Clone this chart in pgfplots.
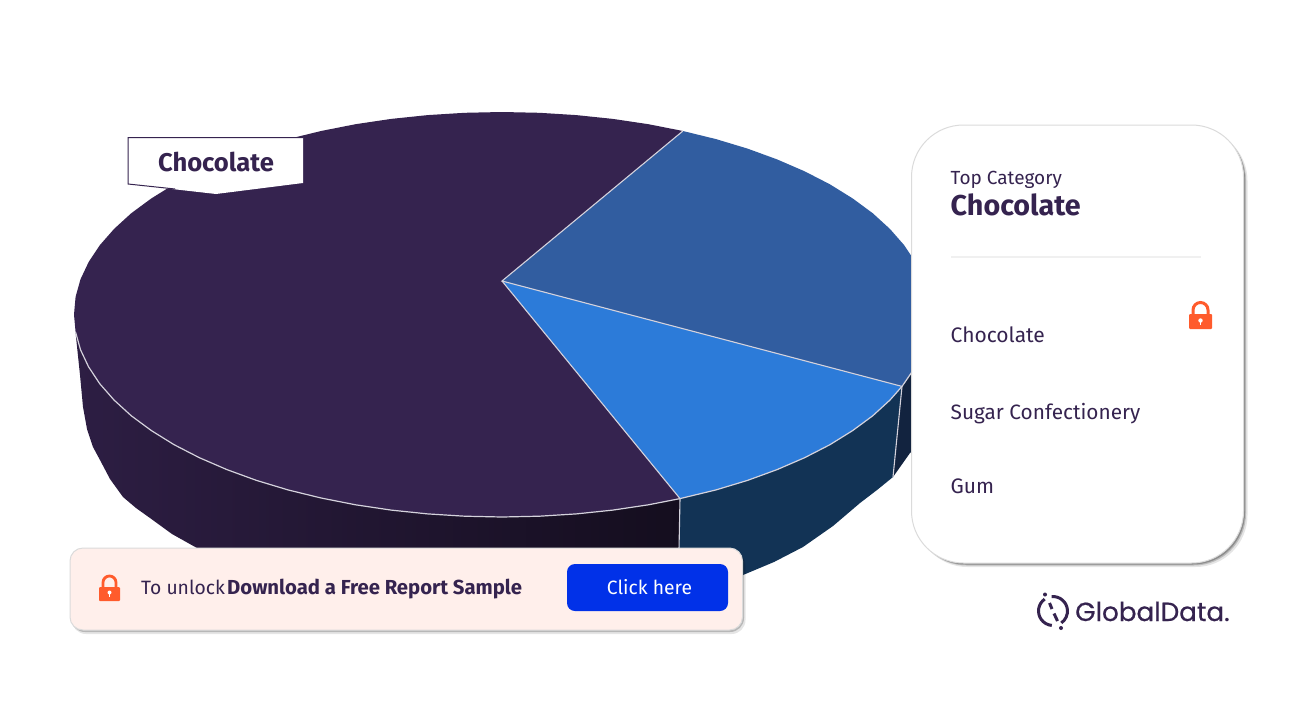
\documentclass[border=0pt]{standalone}
\usepackage{pgfplots}
\pgfplotsset{compat=1.18}
\usepackage{fontspec}
\setmainfont{Fira Sans}
\newfontfamily\logofont{Poppins}
\definecolor{ink}{HTML}{35234F}
\definecolor{pDark}{HTML}{35234F}
\definecolor{pBlue}{HTML}{315DA0}
\definecolor{pLight}{HTML}{2C7BD9}
\definecolor{sNavy}{HTML}{123355}
\definecolor{sDeep}{HTML}{12233F}
\definecolor{rim}{HTML}{D4D2DC}
\definecolor{lockc}{HTML}{FF5B2C}
\definecolor{banner}{HTML}{FFEFEB}
\definecolor{btn}{HTML}{0131E8}
\newcommand{\fs}[1]{\fontsize{#1}{#1}\selectfont}
\begin{document}
\begin{tikzpicture}
\begin{axis}[
  scale only axis, width=1289pt, height=725pt,
  xmin=0, xmax=1289, ymin=0, ymax=725, y dir=reverse,
  hide axis, clip=true,
  every axis plot/.append style={mark=none},
]
\fill[white] (axis cs:0,0) rectangle (axis cs:1289,725);
% side of the large slice
\addplot[draw=none, left color=black!0!pDark!85!black, middle color=pDark!75!black, right color=pDark!38!black, shading=axis] coordinates {
 (680,498.6)(648.4,504.8)(612.8,510.1)(576.3,513.9)(539.3,516.2)(502,517)(464.7,516.2)(427.7,513.9)(391.2,510.1)(355.6,504.8)(321.1,498)(288,489.9)(256.5,480.4)(226.9,469.6)(199.4,457.7)(174.1,444.7)(151.4,430.6)(131.3,415.8)(114.1,400.1)(99.8,383.8)(88.6,366.9)(80.5,349.7)(75.6,332.2)
 (76,337)(80,375)(83,407)(87,429)(93,447)(100,460)(110,479)(123,497)(136,508)(150,518)(172,534)(197,548)(300,590)(500,610)(678,600)} --cycle;
% sides of the blue slices
\addplot[fill=sNavy, draw=none] coordinates {
 (680,498.6)(682.9,498)(716,489.9)(747.5,480.4)(777.1,469.6)(804.6,457.7)(829.9,444.7)(852.6,430.6)(872.7,415.8)(889.9,400.1)(902,386.4)
 (893,477)(877,490)(860,503)(833,526)(803,547)(774,562)(743,575)(678,600)} --cycle;
\addplot[fill=sDeep, draw=none] coordinates {
 (902,386.4)(904.2,383.8)(915.4,366.9)(923.5,349.7)(925,440)(910,453)(893,477)} --cycle;
% top faces
\addplot[fill=pDark, draw=none] coordinates {
 (502,281)(680,498.6)(648.4,504.8)(612.8,510.1)(576.3,513.9)(539.3,516.2)(502,517)(464.7,516.2)(427.7,513.9)(391.2,510.1)(355.6,504.8)(321.1,498)(288,489.9)(256.5,480.4)(226.9,469.6)(199.4,457.7)(174.1,444.7)(151.4,430.6)(131.3,415.8)(114.1,400.1)(99.8,383.8)(88.6,366.9)(80.5,349.7)(75.6,332.2)(74,314.5)(75.6,296.8)(80.5,279.3)(88.6,262.1)(99.8,245.2)(114.1,228.9)(131.3,213.2)(151.4,198.4)(174.1,184.3)(199.4,171.3)(226.9,159.4)(256.5,148.6)(288,139.1)(321.1,131)(355.6,124.2)(391.2,118.9)(427.7,115.1)(464.7,112.8)(502,112)(539.3,112.8)(576.3,115.1)(612.8,118.9)(648.4,124.2)(682.9,131)} --cycle;
\addplot[fill=pBlue, draw=none] coordinates {
 (502,281)(682.9,131)(716,139.1)(747.5,148.6)(777.1,159.4)(804.6,171.3)(829.9,184.3)(852.6,198.4)(872.7,213.2)(889.9,228.9)(904.2,245.2)(915.4,262.1)(923.5,279.3)(928.4,296.8)(930,314.5)(928.4,332.2)(923.5,349.7)(915.4,366.9)(904.2,383.8)(902,386.4)} --cycle;
\addplot[fill=pLight, draw=none] coordinates {
 (502,281)(902,386.4)(889.9,400.1)(872.7,415.8)(852.6,430.6)(829.9,444.7)(804.6,457.7)(777.1,469.6)(747.5,480.4)(716,489.9)(682.9,498)(680,498.6)} --cycle;
% rim and slice edges
\addplot[rim, line width=1.2pt] coordinates {
 (75.6,332.2)(80.5,349.7)(88.6,366.9)(99.8,383.8)(114.1,400.1)(131.3,415.8)(151.4,430.6)(174.1,444.7)(199.4,457.7)(226.9,469.6)(256.5,480.4)(288,489.9)(321.1,498)(355.6,504.8)(391.2,510.1)(427.7,513.9)(464.7,516.2)(502,517)(539.3,516.2)(576.3,513.9)(612.8,510.1)(648.4,504.8)(680,498.6)(716,489.9)(747.5,480.4)(777.1,469.6)(804.6,457.7)(829.9,444.7)(852.6,430.6)(872.7,415.8)(889.9,400.1)(902,386.4)(915.4,366.9)};
\addplot[rim, line width=1.1pt] coordinates {(682.9,131)(502,281)(902,386.4)};
\addplot[rim, line width=1.1pt] coordinates {(502,281)(680,498.6)};
\addplot[rim, line width=1.1pt] coordinates {(902,386.4)(893,477)};
\addplot[rim, line width=1.1pt] coordinates {(680,498.6)(678,600)};
% data label
\fill[white] (axis cs:128,137.5) -- (axis cs:303,137.5) -- (axis cs:303,183) -- (axis cs:216,194) -- (axis cs:128,184) -- cycle;
\draw[ink, line width=1pt] (axis cs:303,137.5) -- (axis cs:128,137.5) -- (axis cs:128,184) -- (axis cs:175,189);
\node[anchor=base, text=ink, inner sep=0pt] at (axis cs:216,171) {\fs{25.6}\bfseries Chocolate};
% card
\fill[black, opacity=0.10, rounded corners=52pt] (axis cs:915.5,129) rectangle (axis cs:1247.5,567);
\fill[black, opacity=0.18, rounded corners=52pt] (axis cs:914.5,128) rectangle (axis cs:1246,565.5);
\fill[black, opacity=0.25, rounded corners=52pt] (axis cs:913.5,127) rectangle (axis cs:1245,564.5);
\filldraw[fill=white, draw=black!14, line width=1pt, rounded corners=52pt] (axis cs:911.5,125) rectangle (axis cs:1243.5,563);
\node[anchor=base west, text=ink, inner sep=0pt] at (axis cs:950.5,184) {\fs{19}Top Category};
\node[anchor=base west, text=ink, inner sep=0pt] at (axis cs:950.5,215) {\fs{28.7}\bfseries Chocolate};
\draw[black!6, line width=1.5pt] (axis cs:951,257) -- (axis cs:1201,257);
\node[anchor=base west, text=ink, inner sep=0pt] at (axis cs:950.5,342) {\fs{21}Chocolate};
\node[anchor=base west, text=ink, inner sep=0pt] at (axis cs:950.5,419) {\fs{20.8}Sugar Confectionery};
\node[anchor=base west, text=ink, inner sep=0pt] at (axis cs:950.5,493) {\fs{21}Gum};
% card lock
\draw[lockc, line width=3pt] (axis cs:1193,316) -- (axis cs:1193,310) arc[start angle=180,end angle=0,radius=7.5pt] -- (axis cs:1208,316);
\fill[lockc, rounded corners=1pt] (axis cs:1189,314) rectangle (axis cs:1212,329);
\fill[white] (axis cs:1200.5,320.5) circle[radius=2.2pt];
\fill[white] (axis cs:1199.6,320.5) rectangle (axis cs:1201.4,325);
% banner
\fill[black, opacity=0.10, rounded corners=14pt] (axis cs:72,551) rectangle (axis cs:745.5,634);
\fill[black, opacity=0.20, rounded corners=14pt] (axis cs:71,550) rectangle (axis cs:744,632);
\filldraw[fill=banner, draw=black!14, line width=1pt, rounded corners=13pt] (axis cs:70,548) rectangle (axis cs:742.5,630);
\draw[lockc, line width=2.8pt] (axis cs:103,589) -- (axis cs:103,582.5) arc[start angle=180,end angle=0,radius=6.5pt] -- (axis cs:116,589);
\fill[lockc, rounded corners=1pt] (axis cs:99,587) rectangle (axis cs:120,601);
\fill[white] (axis cs:109.5,592.5) circle[radius=2pt];
\fill[white] (axis cs:108.7,592.5) rectangle (axis cs:110.3,597);
\node[anchor=base west, text=ink, inner sep=0pt] at (axis cs:141,594) {\fs{19.3}To unlock};
\node[anchor=base west, text=ink, inner sep=0pt] at (axis cs:227,594) {\fs{20.3}\bfseries Download a Free Report Sample};
\fill[btn, rounded corners=8pt] (axis cs:567,564) rectangle (axis cs:728,611);
\node[anchor=base, text=white, inner sep=0pt] at (axis cs:649.5,594) {\fs{19.3}Click here};
% logo
\draw[ink, line width=3pt] (axis cs:1051.7,596.6) arc[start angle=95,end angle=-55,radius=14.5pt];
\draw[ink, line width=3pt] (axis cs:1044.7,599.1) arc[start angle=125,end angle=265,radius=14.5pt];
\draw[ink, line width=3pt] (axis cs:1049.5,603) -- (axis cs:1052,609);
\draw[ink, line width=3pt] (axis cs:1054,613.5) -- (axis cs:1057.5,621);
\fill[ink] (axis cs:1045,594.5) circle[radius=2pt];
\fill[ink] (axis cs:1061,628) circle[radius=2pt];
\node[anchor=base west, text=ink, inner sep=0pt] at (axis cs:1075,621) {\fs{26.2}\logofont\addfontfeature{FakeBold=0.6}GlobalData.};
\end{axis}
\end{tikzpicture}
\end{document}
